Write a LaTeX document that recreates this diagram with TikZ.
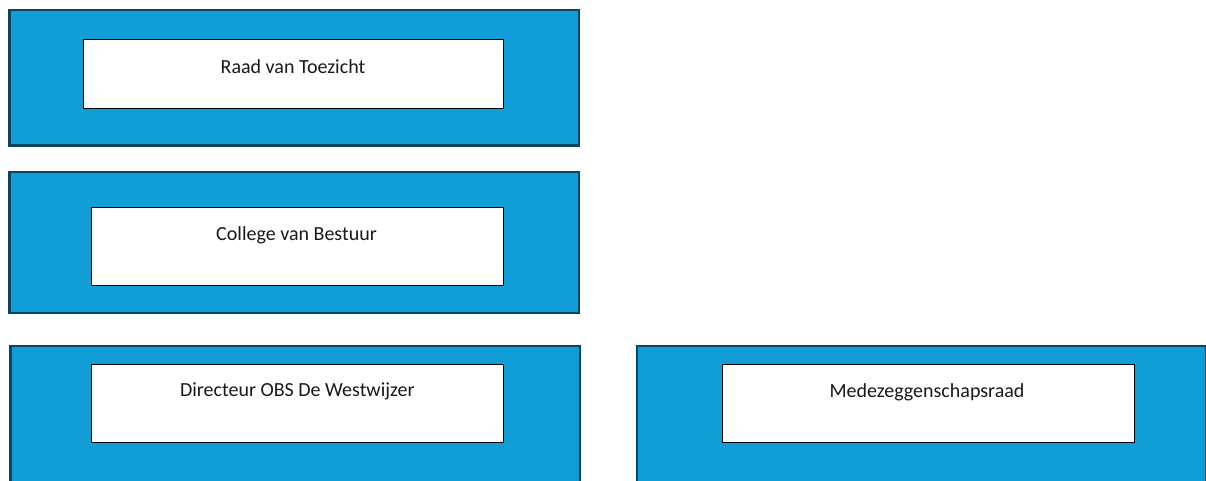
\documentclass[tikz,border=0pt]{standalone}
\usepackage{fontspec}
\setmainfont{Carlito}
\definecolor{boxblue}{HTML}{119ED6}
\definecolor{boxedge}{HTML}{0C4561}
\begin{document}
\begin{tikzpicture}[x=1pt,y=-1pt,
  outerbox/.style={draw=boxedge,fill=boxblue,line width=2.2pt,inner sep=0pt,anchor=north west},
  innerbox/.style={draw=black,fill=white,line width=1.4pt,inner sep=0pt,anchor=north west},
  lbl/.style={anchor=base,inner sep=0pt,font=\fontsize{20}{24}\selectfont,text=black!90}]
\useasboundingbox (0,0) rectangle (1206,480);
% outer boxes
\node[outerbox,minimum width=569.7pt,minimum height=135.3pt] (o1) at (8.3,9) {};
\node[outerbox,minimum width=569.7pt,minimum height=141.3pt] (o2) at (8.3,170.7) {};
\node[outerbox,minimum width=569.7pt,minimum height=150pt] (o3) at (9.3,345) {};
\node[outerbox,minimum width=569pt,minimum height=150pt] (o4) at (636,345) {};
% inner boxes
\node[innerbox,minimum width=420pt,minimum height=69pt] (i1) at (83,39) {};
\node[innerbox,minimum width=412pt,minimum height=78.3pt] (i2) at (91,206.7) {};
\node[innerbox,minimum width=412pt,minimum height=78.3pt] (i3) at (91,363.7) {};
\node[innerbox,minimum width=412.3pt,minimum height=77.8pt] (i4) at (721.7,363.7) {};
% labels
\node[lbl] (t1) at (293,73.3) {Raad van Toezicht};
\node[lbl] (t2) at (296.5,240) {College van Bestuur};
\node[lbl] (t3) at (297.3,396.7) {Directeur OBS De Westwijzer};
\node[lbl] (t4) at (927,397.7) {Medezeggenschapsraad};
\end{tikzpicture}
\end{document}
